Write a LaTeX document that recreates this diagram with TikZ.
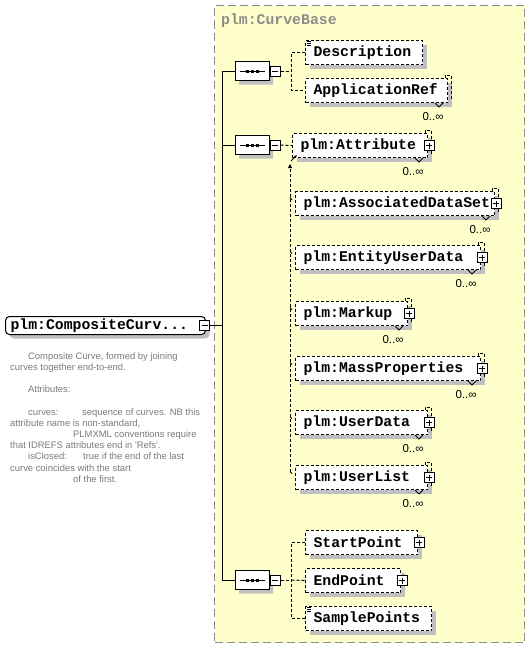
\documentclass[tikz,border=0pt]{standalone}
\usepackage{fontspec}
\setmainfont{Liberation Sans}
\newfontfamily\tagfont{Liberation Mono}
\usetikzlibrary{arrows.meta, positioning, shapes.misc, shadows}
\definecolor{grp-fill}{HTML}{FFFFCC}
\definecolor{grp-border}{HTML}{8C8C8C}
\definecolor{shade-gray}{HTML}{C0C0C0}
\definecolor{doc-gray}{HTML}{7A7A7A}
\tikzset{
  xsd-shadow/.style={drop shadow={shadow xshift=4pt, shadow yshift=-4pt, fill=shade-gray, opacity=1}},
  xsd-elem/.style={
    draw, fill=white, line width=1pt, dash pattern=on 3pt off 2pt,
    anchor=north west, minimum height=24pt, inner xsep=8pt, inner ysep=0pt,
    align=left, font=\tagfont\bfseries\fontsize{14.8}{16}\selectfont, xsd-shadow
  },
  xsd-root/.style={
    draw, fill=white, line width=1pt, rounded corners=4pt,
    anchor=north west, minimum height=18pt, inner xsep=5pt, inner ysep=0pt,
    align=left, font=\tagfont\bfseries\fontsize{14.8}{16}\selectfont, xsd-shadow
  },
  xsd-seq/.style={
    chamfered rectangle, chamfered rectangle xsep=6pt, chamfered rectangle ysep=6pt,
    draw, fill=white, line width=1pt, minimum width=34pt, minimum height=19pt,
    inner sep=0pt, xsd-shadow
  },
  xsd-minus/.style={
    draw, fill=white, line width=1pt, minimum size=10pt, inner sep=0pt,
    path picture={\draw[line width=1pt] ([xshift=2pt]path picture bounding box.west) -- ([xshift=-2pt]path picture bounding box.east);}
  },
  xsd-plus/.style={
    draw, fill=white, line width=1pt, minimum size=10pt, inner sep=0pt,
    path picture={
      \draw[line width=1pt] ([xshift=2pt]path picture bounding box.west) -- ([xshift=-2pt]path picture bounding box.east);
      \draw[line width=1pt] ([yshift=-2pt]path picture bounding box.north) -- ([yshift=2pt]path picture bounding box.south);}
  },
  xsd-conn/.style={line width=1pt},
  xsd-branch/.style={line width=1pt, dash pattern=on 3pt off 2pt},
  xsd-mult/.style={inner sep=0pt, font=\fontsize{11.5}{12}\selectfont},
  xsd-doc/.style={anchor=north west, align=left, inner sep=0pt, text=doc-gray, font=\fontsize{9.4}{11.2}\selectfont},
  xsd-grp/.style={
    draw=grp-border, fill=grp-fill, line width=1pt, dash pattern=on 8pt off 4pt,
    anchor=north west, minimum width=310pt, minimum height=637pt, inner sep=0pt
  },
  xsd-grp-title/.style={anchor=west, inner sep=0pt, text=grp-border, font=\tagfont\bfseries\fontsize{14.8}{16}\selectfont}
}
\begin{document}
\begin{tikzpicture}[x=1pt, y=1pt]
  \useasboundingbox (0,0) rectangle (530,-648);

  % complex type box
  \node[xsd-grp] (grp) at (214,-5) {};
  \node[xsd-grp-title] (grp-t) at (221,-21) {plm:CurveBase};

  % root element and its annotation
  \node[xsd-root, text width=190pt] (root) at (5,-316) {plm:CompositeCurv...};
  \node[xsd-minus] (root-m) at ([xshift=-1.5pt]root.east) {};
  \node[xsd-doc] (doc) at (10,-352) {%
    \hspace*{18pt}Composite Curve, formed by joining\\
    curves together end-to-end.\\[11.2pt]
    \hspace*{18pt}Attributes:\\[11.2pt]
    \hspace*{18pt}\makebox[54pt][l]{curves:}sequence of curves. NB this\\
    attribute name is non-standard,\\
    \hspace*{63pt}PLMXML conventions require\\
    that IDREFS attributes end in \textquotesingle Refs\textquotesingle.\\
    \hspace*{18pt}\makebox[55pt][l]{isClosed:}true if the end of the last\\
    curve coincides with the start\\
    \hspace*{63pt}of the first.};

  % sequences
  \node[xsd-seq] (seq1) at (252,-71) {};
  \node[xsd-minus, right=0pt of seq1] (seq1-m) {};
  \node[xsd-seq] (seq2) at (252,-145) {};
  \node[xsd-minus, right=0pt of seq2] (seq2-m) {};
  \node[xsd-seq] (seq3) at (252,-580) {};
  \node[xsd-minus, right=0pt of seq3] (seq3-m) {};
  \foreach \s in {seq1,seq2,seq3} {
    \draw[line width=1pt] ([xshift=5pt]\s.west) -- ([xshift=-5pt]\s.east);
    \foreach \d in {-5,0,5}
      \fill ([xshift=\d]\s.center) ++(-1.5,-1.5) rectangle ++(3,3);
  }

  \draw[xsd-conn] (root-m.east) -- ++(12.5,0) coordinate (spine);
  \draw[xsd-conn] (seq1.west) -| (spine) |- (seq3.west);
  \draw[xsd-conn] (seq2.west) -- (seq2.west -| spine);

  % first sequence
  \node[xsd-elem, text width=101pt] (desc) at (305,-40) {Description};
  \node[xsd-elem, text width=126pt] (appref) at (305,-78) {ApplicationRef};
  \draw[xsd-branch] (seq1-m.east) -- ++(11,0) coordinate (fork1);
  \draw[xsd-branch] (desc.west) -| (fork1) |- (appref.west);

  % second sequence, substitution group
  \node[xsd-elem, text width=119pt] (attr) at (292,-133) {plm:Attribute};
  \node[xsd-elem, text width=183pt] (assoc) at (295,-191) {\mbox{plm:AssociatedDataSet}};
  \node[xsd-elem, text width=169pt] (entity) at (295,-245) {plm:EntityUserData};
  \node[xsd-elem, text width=96pt] (markup) at (295,-301) {plm:Markup};
  \node[xsd-elem, text width=169pt] (mass) at (295,-356) {plm:MassProperties};
  \node[xsd-elem, text width=116pt] (udata) at (295,-410) {plm:UserData};
  \node[xsd-elem, text width=116pt] (ulist) at (295,-465) {plm:UserList};
  \draw[xsd-branch] (seq2-m.east) -- (attr.west);
  \draw[xsd-branch, -{Triangle[length=4pt, width=4pt]}] ([xshift=-5pt, yshift=6pt]ulist.west)
    -- ([xshift=-2pt, yshift=-6pt]attr.south west);
  \foreach \n in {assoc,entity,markup,mass,udata,ulist}
    \draw[line width=0.8pt] ([xshift=-5pt, yshift=6pt]\n.west) -- ++(2,-2);
  \draw[line width=0.8pt, -{Latex[length=3pt, width=3pt]}] ([xshift=-1pt, yshift=-3pt]attr.south west)
    -- ([xshift=5pt, yshift=3pt]attr.south west);

  % third sequence
  \node[xsd-elem, text width=96pt] (startp) at (305,-530) {StartPoint};
  \node[xsd-elem, text width=79pt] (endp) at (305,-568) {EndPoint};
  \node[xsd-elem, text width=110pt] (samplep) at (305,-606) {SamplePoints};
  \draw[xsd-branch] (seq3-m.east) -- ++(11,0) coordinate (fork3);
  \draw[xsd-branch] (startp.west) -| (fork3) |- (samplep.west);
  \draw[xsd-branch] (fork3) -- (endp.west);

  % repeated elements: back corner, notch, occurrence
  \foreach \n in {appref,attr,assoc,entity,markup,mass,udata,ulist} {
    \draw[xsd-branch] ([xshift=-3pt]\n.north east) -- ++(0,3) -- ++(6,0)
      -- ([xshift=3pt, yshift=3pt]\n.south east);
    \draw[line width=1pt] ([xshift=-13pt]\n.south east) -- ++(4,-4) -- ++(4,4);
    \node[xsd-mult] (\n-m) at ([xshift=-15pt, yshift=-14pt]\n.south east) {0..∞};
  }

  % expand boxes
  \foreach \n in {attr,assoc,entity,markup,mass,udata,ulist,startp,endp}
    \node[xsd-plus] (\n-p) at ([xshift=1pt]\n.east) {};

  % text content marks
  \foreach \n in {desc,samplep}
    \foreach \k in {1.5,3.5,5.5}
      \draw[line width=1pt] ([xshift=2pt, yshift=-\k pt]\n.north west) -- ++(4,0);
\end{tikzpicture}
\end{document}
